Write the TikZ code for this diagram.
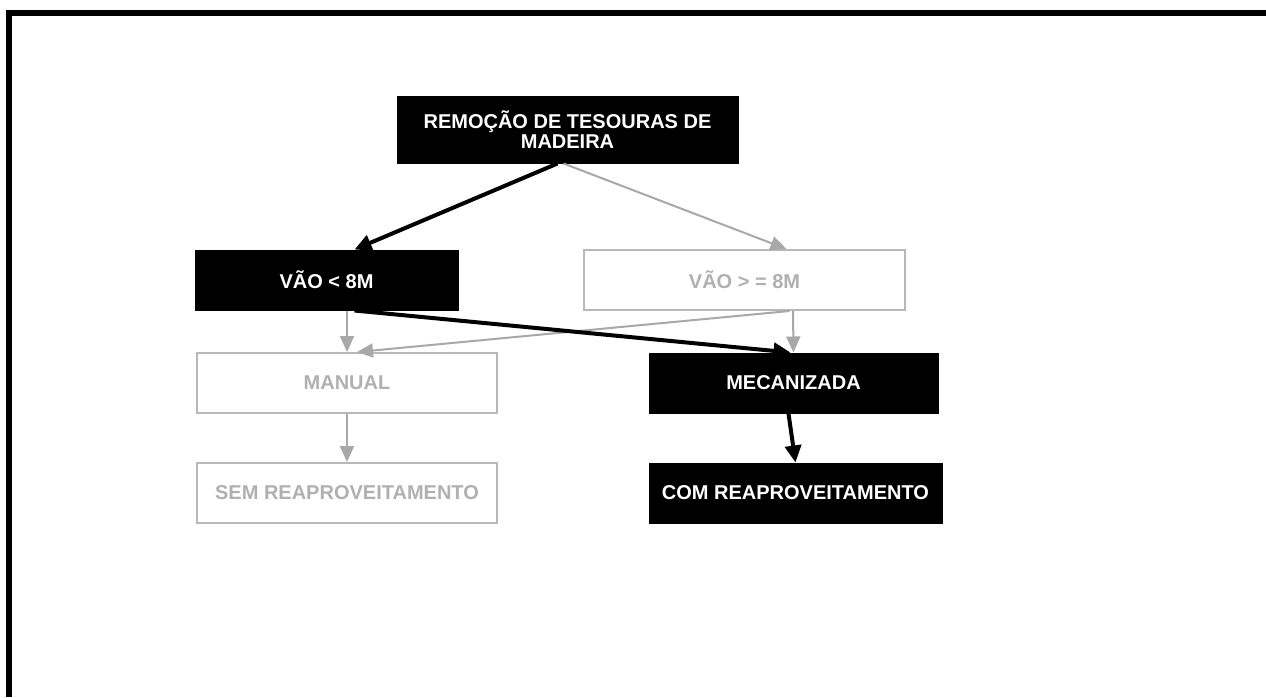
\documentclass[tikz,border=0pt]{standalone}
\usepackage{fontspec}
\setmainfont{Liberation Sans}
\usetikzlibrary{arrows.meta}
\definecolor{lgray}{HTML}{A8A8A8}
\definecolor{bgray}{HTML}{B8B8B8}
\definecolor{tgray}{HTML}{B0B0B0}
\tikzset{
  box/.style={rectangle, inner sep=0pt, font=\fontsize{20}{21}\selectfont\bfseries, align=center},
  darkbox/.style={box, fill=black, draw=black, line width=1pt, text=white},
  lightbox/.style={box, fill=white, draw=bgray, line width=2pt, text=tgray},
  darkarrow/.style={draw=black, line width=4pt, -{Triangle[length=17pt,width=16pt]}},
  lightarrow/.style={draw=lgray, line width=2pt, -{Triangle[length=16pt,width=14pt]}},
  frameline/.style={line width=6pt, draw=black}
}
\begin{document}
\begin{tikzpicture}[x=1pt,y=1pt]
\useasboundingbox (0,0) rectangle (1266,-697);
% frame
\coordinate (fa) at (9,-697);
\coordinate (fb) at (9,-13);
\coordinate (fc) at (1266,-13);
\draw[frameline] (fa) -- (fb) -- (fc);
\draw[frameline] (6,-13) -- (fc);
% nodes
\node[darkbox, minimum width=341pt, minimum height=67pt] (T) at (567.5,-129.5) {REMOÇÃO DE TESOURAS DE\\[-1pt]MADEIRA};
\node[darkbox, minimum width=263pt, minimum height=60pt] (V1) at (326.5,-280) {VÃO < 8M};
\node[lightbox, minimum width=321pt, minimum height=60pt] (V2) at (744.5,-280) {VÃO > = 8M};
\node[lightbox, minimum width=300pt, minimum height=60pt] (MAN) at (347,-383) {MANUAL};
\node[darkbox, minimum width=289pt, minimum height=60pt] (MEC) at (793.5,-383) {MECANIZADA};
\node[lightbox, minimum width=300pt, minimum height=60pt] (SEM) at (347,-493) {SEM REAPROVEITAMENTO};
\node[darkbox, minimum width=293pt, minimum height=60pt] (COM) at (795.5,-493) {COM REAPROVEITAMENTO};
% connectors
\draw[lightarrow] ([xshift=-4pt]T.south) -- ([xshift=42pt]V2.north);
\draw[lightarrow] ([xshift=20.5pt]V1.south) -- (MAN.north);
\draw[lightarrow] ([xshift=48.5pt]V2.south) -- (MEC.north);
\draw[lightarrow] ([xshift=45pt]V2.south) -- ([xshift=10pt]MAN.north);
\draw[lightarrow] (MAN.south) -- (SEM.north);
\draw[darkarrow] ([xshift=-10pt]T.south) -- ([xshift=28pt]V1.north);
\draw[darkarrow] ([xshift=28pt]V1.south) -- ([xshift=-3pt]MEC.north);
\draw[darkarrow] ([xshift=-5pt]MEC.south) -- (COM.north);
\end{tikzpicture}
\end{document}
